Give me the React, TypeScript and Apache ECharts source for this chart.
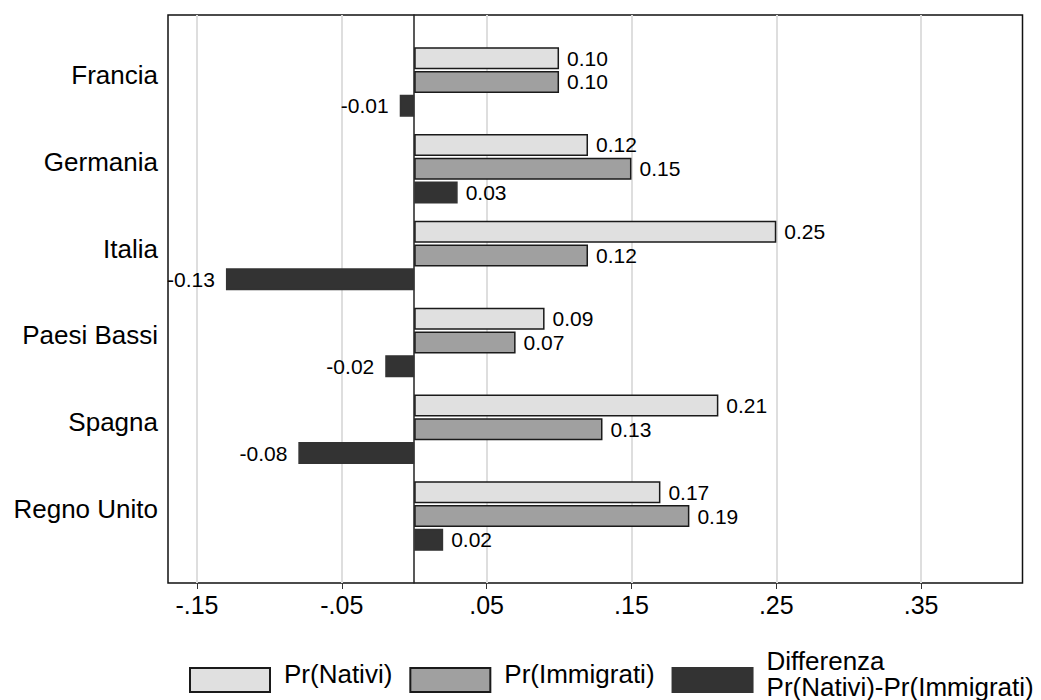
import React, { useEffect, useRef } from "react";
import * as echarts from "echarts";

const countries = ["Francia", "Germania", "Italia", "Paesi Bassi", "Spagna", "Regno Unito"];
const nativi = [0.10, 0.12, 0.25, 0.09, 0.21, 0.17];
const immigrati = [0.10, 0.15, 0.12, 0.07, 0.13, 0.19];
const differenza = [-0.01, 0.03, -0.13, -0.02, -0.08, 0.02];
const tickValues = [-0.15, -0.05, 0.05, 0.15, 0.25, 0.35];
const seriesNames = ["Pr(Nativi)", "Pr(Immigrati)", "Differenza\nPr(Nativi)-Pr(Immigrati)"];
const axisMin = -0.17;
const axisMax = 0.42;

const FONT = "'Liberation Sans', Arial, sans-serif";

function tickFmt(v: number): string {
  const s = Math.abs(v).toFixed(2).replace(/^0/, "");
  return (v < 0 ? "-" : "") + s;
}

function withLabels(values: number[]) {
  return values.map((v) => ({
    value: v,
    label: {
      show: true,
      position: v < 0 ? "left" : "right",
      distance: v < 0 ? 11 : 8,
    },
  }));
}

export default function App() {
  const ref = useRef<HTMLDivElement>(null);
  useEffect(() => {
    document.body.style.margin = "0";
    if (!ref.current) return;
    const chart = echarts.init(ref.current, undefined, { renderer: "svg" });
    const barLabel = {
      show: true,
      fontSize: 21,
      color: "#000",
      fontFamily: FONT,
      formatter: (p: any) => Number(p.value).toFixed(2),
    };
    const option: any = {
      animation: false,
      backgroundColor: "#fff",
      textStyle: { fontFamily: FONT },
      grid: [
        {
          left: 168,
          top: 15,
          width: 854.5,
          height: 568,
          show: true,
          borderColor: "#111",
          borderWidth: 1.5,
          backgroundColor: "transparent",
        },
        { left: 168, top: 38.5, width: 854.5, height: 521 },
      ],
      xAxis: [
        {
          gridIndex: 0,
          type: "value",
          min: axisMin,
          max: axisMax,
          axisLine: { show: false },
          axisTick: {
            show: true,
            customValues: tickValues,
            length: 6,
            lineStyle: { color: "#333", width: 1 },
          },
          axisLabel: {
            customValues: tickValues,
            formatter: (v: number) => tickFmt(v),
            fontSize: 25,
            color: "#000",
            margin: 9,
            fontFamily: FONT,
          },
          splitLine: { show: true, lineStyle: { color: "#dedede", width: 2 } },
        },
        {
          gridIndex: 1,
          type: "value",
          min: axisMin,
          max: axisMax,
          show: false,
          splitLine: { show: false },
        },
      ],
      yAxis: [
        {
          gridIndex: 0,
          type: "value",
          min: 0,
          max: 1,
          axisLine: { show: true, onZero: true, lineStyle: { color: "#222", width: 1.5 } },
          axisTick: { show: false },
          axisLabel: { show: false },
          splitLine: { show: false },
        },
        {
          gridIndex: 1,
          type: "category",
          data: countries,
          inverse: true,
          axisLine: { show: false },
          axisTick: { show: false },
          axisLabel: {
            fontSize: 26,
            color: "#000",
            margin: 10,
            verticalAlign: "bottom",
            lineHeight: 14,
            fontFamily: FONT,
          },
          splitLine: { show: false },
        },
      ],
      legend: {
        data: seriesNames,
        left: 189,
        top: 647.5,
        padding: 0,
        itemWidth: 80,
        itemHeight: 24,
        itemGap: 17,
        icon: "rect",
        formatter: (name: string) =>
          name
            .split("\n")
            .map((l) => "{t|" + l + "}")
            .join("\n") + "\n",
        textStyle: {
          fontSize: 26,
          color: "#000",
          lineHeight: 13,
          fontFamily: FONT,
          padding: [0, 0, 0, 9],
          rich: {
            t: { fontSize: 26, lineHeight: 26, color: "#000", fontFamily: FONT },
          },
        },
      },
      series: [
        {
          name: seriesNames[0],
          type: "bar",
          xAxisIndex: 1,
          yAxisIndex: 1,
          data: withLabels(nativi),
          barWidth: 22,
          barGap: "8%",
          label: barLabel,
          itemStyle: { color: "#e0e0e0", borderColor: "#1a1a1a", borderWidth: 1.5 },
        },
        {
          name: seriesNames[1],
          type: "bar",
          xAxisIndex: 1,
          yAxisIndex: 1,
          data: withLabels(immigrati),
          barWidth: 22,
          barGap: "8%",
          label: barLabel,
          itemStyle: { color: "#a0a0a0", borderColor: "#1a1a1a", borderWidth: 1.5 },
        },
        {
          name: seriesNames[2],
          type: "bar",
          xAxisIndex: 1,
          yAxisIndex: 1,
          data: withLabels(differenza),
          barWidth: 22,
          barGap: "8%",
          label: barLabel,
          itemStyle: { color: "#333333", borderColor: "#333333", borderWidth: 1.5 },
        },
      ],
    };
    chart.setOption(option);
    return () => chart.dispose();
  }, []);
  return <div ref={ref} style={{ width: 1041, height: 700 }} />;
}
